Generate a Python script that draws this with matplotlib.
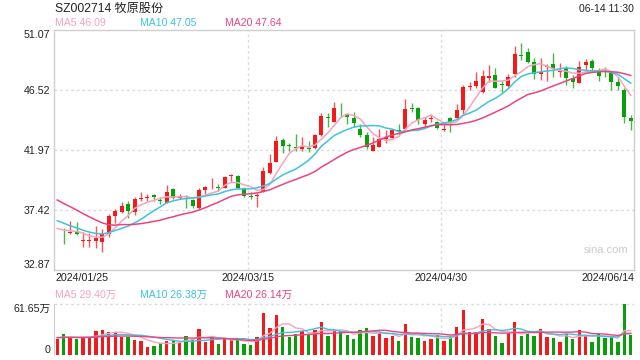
import matplotlib

matplotlib.use("Agg")
import matplotlib.pyplot as plt
import numpy as np
from matplotlib import transforms

plt.rcParams["font.family"] = ["Liberation Sans", "Noto Sans CJK SC"]

RED = "#f21b1b"
GREEN = "#0a9f0a"
GRID = "#dcdcdc"
SPINE = "#cfcfcf"
MA_COLORS = {5: "#f7a3be", 10: "#3ec3df", 20: "#ea457f"}

# daily candles 2024/01/26 .. 2024/06/14 (01/25 only shows up in volume / MAs)
opens = [35.70, 35.70, 35.85, 35.10, 35.10, 35.09, 35.02, 35.60, 36.99, 37.29,
         37.88, 37.29, 38.28, 38.35, 38.56, 38.18, 37.98, 38.99, 38.30, 38.45,
         38.18, 37.55, 38.91, 39.28, 39.16, 39.11, 40.00, 40.00, 38.99, 38.45,
         38.48, 38.81, 40.20, 41.09, 42.73, 42.30, 42.17, 42.07, 42.10, 42.10,
         43.11, 44.45, 44.12, 45.02, 44.67, 44.37, 43.54, 43.11, 41.92, 42.22,
         42.78, 42.91, 43.52, 43.56, 45.18, 45.13, 43.92, 44.33, 44.07, 43.52,
         44.37, 44.37, 45.00, 46.72, 46.85, 46.34, 47.40, 47.66, 46.97, 46.85,
         47.71, 49.15, 49.43, 48.62, 47.71, 48.26, 48.47, 47.86, 48.21, 47.40,
         47.08, 48.42, 48.72, 47.91, 47.93, 47.83, 47.15, 46.52, 44.37]
highs = [36.03, 36.58, 36.48, 35.75, 35.68, 36.21, 35.98, 37.09, 37.50, 38.00,
         38.13, 38.43, 38.76, 38.61, 38.63, 38.43, 39.29, 39.06, 38.61, 38.56,
         38.25, 39.11, 39.27, 39.87, 39.42, 40.02, 40.17, 40.07, 39.19, 38.81,
         38.68, 40.71, 41.64, 43.06, 42.91, 42.53, 43.18, 42.98, 42.68, 43.16,
         44.80, 44.75, 45.58, 45.51, 44.75, 44.88, 43.92, 43.36, 42.93, 43.54,
         43.49, 43.54, 43.92, 45.84, 45.56, 45.21, 44.50, 44.70, 44.17, 44.07,
         44.50, 45.43, 46.90, 47.15, 47.91, 48.04, 48.42, 48.16, 47.20, 47.71,
         49.86, 50.06, 49.68, 48.97, 48.97, 48.47, 49.30, 48.54, 48.37, 47.66,
         48.72, 48.87, 48.87, 48.16, 48.29, 47.91, 47.53, 46.70, 44.62]
lows = [34.82, 35.57, 35.52, 34.64, 34.64, 34.51, 34.26, 35.35, 36.41, 37.17,
        36.84, 37.04, 38.13, 38.13, 38.13, 37.88, 37.93, 38.23, 38.25, 37.60,
        37.55, 37.50, 38.61, 38.99, 38.89, 39.06, 39.56, 39.01, 38.43, 38.25,
        37.67, 38.76, 40.15, 41.04, 41.72, 41.89, 41.92, 41.92, 41.82, 42.05,
        43.06, 43.69, 44.07, 44.45, 43.92, 43.74, 42.98, 42.02, 41.92, 42.17,
        42.48, 42.85, 43.10, 43.49, 44.88, 43.92, 43.74, 44.07, 43.54, 43.41,
        43.36, 44.32, 44.70, 46.52, 46.70, 46.32, 47.15, 46.65, 46.34, 46.77,
        47.53, 48.79, 48.54, 47.35, 47.28, 47.20, 47.53, 47.53, 46.90, 46.70,
        47.03, 48.04, 48.04, 47.20, 47.53, 46.52, 46.52, 43.99, 43.49]
closes = [35.64, 35.78, 35.60, 35.14, 35.14, 35.27, 35.60, 36.97, 37.34, 37.75,
          37.37, 38.25, 38.33, 38.40, 38.43, 38.14, 38.78, 38.31, 38.48, 38.40,
          37.75, 38.94, 39.16, 39.33, 39.12, 39.92, 40.05, 39.06, 38.51, 38.40,
          38.53, 40.38, 41.01, 42.65, 42.27, 42.25, 42.13, 42.22, 42.05, 43.11,
          44.55, 44.40, 45.13, 44.97, 44.45, 43.99, 43.11, 42.22, 42.35, 42.78,
          42.98, 43.49, 43.40, 45.08, 45.08, 44.25, 44.25, 44.38, 43.61, 43.56,
          44.07, 45.00, 46.72, 46.85, 47.20, 47.58, 47.61, 46.70, 46.93, 47.53,
          49.25, 49.10, 48.62, 47.71, 47.91, 48.29, 48.11, 47.96, 47.46, 47.15,
          48.24, 48.67, 48.21, 47.61, 47.88, 47.15, 46.85, 44.50, 44.17]

# earlier closes that only feed the moving averages (last one = 01/25)
pre_close = [40.90, 40.60, 40.80, 40.50, 40.20, 40.00, 39.95, 39.79, 37.90, 36.86,
             37.50, 37.80, 37.20, 36.90, 36.55, 36.30, 36.02, 35.90, 35.73, 36.20]

# volume in 万 (2024/01/25 .. 2024/06/14)
volume = [19.1, 25.5, 22.3, 19.1, 20.3, 22.3, 29.2, 30.4, 28.4, 27.6,
          22.3, 22.3, 18.3, 17.4, 10.1, 10.9, 14.2, 17.0, 18.3, 15.0,
          23.1, 19.5, 31.6, 16.2, 22.3, 13.4, 20.3, 18.3, 19.1, 13.4,
          12.2, 21.9, 50.3, 33.2, 48.6, 34.0, 21.9, 25.5, 28.8, 24.3,
          30.4, 39.3, 23.5, 29.6, 29.2, 24.3, 19.5, 30.4, 32.8, 23.5,
          26.4, 21.1, 23.5, 17.4, 37.7, 22.3, 21.1, 17.4, 19.9, 24.3,
          17.4, 22.3, 33.3, 53.9, 27.2, 28.4, 43.8, 31.6, 23.5, 15.0,
          26.4, 40.1, 23.5, 26.4, 23.5, 31.6, 22.3, 21.1, 16.2, 25.5,
          19.9, 30.4, 23.5, 16.2, 25.5, 21.1, 23.5, 16.2, 61.65, 24.3]
pre_volume = [22.0, 20.5, 21.8, 19.6, 23.1, 20.9, 21.4, 22.6, 19.8, 20.7,
              21.5, 23.0, 20.2, 19.4, 21.9, 22.4, 20.1, 21.2, 20.8]

# values printed in the legends (as quoted by the source)
ma_quote = [46.09, 47.05, 47.64]
vol_ma_quote = [29.40, 26.38, 26.14]

dates = ["2024/01/25", "2024/03/15", "2024/04/30", "2024/06/14"]
date_idx = [0, 30, 60, 89]
price_ticks = [32.87, 37.42, 41.97, 46.52, 51.07]
vol_ticks = [0, 61.65]


def moving_avg(values, n, keep):
    v = np.asarray(values, dtype=float)
    return np.convolve(v, np.ones(n) / n, mode="valid")[-keep:]


def px(x, y):
    return x / 640, 1 - y / 360


n_days = len(volume)
o = np.array(opens)
h = np.array(highs)
lo = np.array(lows)
c = np.array(closes)
xc = np.arange(1, n_days)
up = c > o
cols = np.where(up, RED, GREEN)

fig = plt.figure(figsize=(6.4, 3.6), dpi=100)
ax = fig.add_axes([54 / 640, 90 / 360, 580 / 640, 240 / 360])
axv = fig.add_axes([54 / 640, 5 / 360, 580 / 640, 51 / 360])

# candles
ax.vlines(xc, lo, h, colors=cols, linewidth=1.0, alpha=0.75, zorder=3)
body_lo = np.minimum(o, c)
body_h = np.maximum(np.abs(c - o), 0.07)
ax.bar(xc, body_h, bottom=body_lo, width=0.62, color=cols, linewidth=0, zorder=4)

xa = np.arange(n_days)
for n, col in MA_COLORS.items():
    ax.plot(xa, moving_avg(pre_close + closes, n, n_days), color=col,
            linewidth=1.1, zorder=5)

ax.set_xlim(-0.5, n_days - 0.5)
ax.set_ylim(price_ticks[0], price_ticks[-1])
ax.set_xticks([])
ax.set_yticks(price_ticks)
ax.set_yticklabels([f"{t:.2f}" for t in price_ticks])
labs = ax.get_yticklabels()
labs[0].set_va("bottom")
labs[-1].set_va("top")
ax.tick_params(axis="y", length=0, pad=2.5, labelsize=7.7, labelcolor="#222222")
for t in price_ticks[1:-1]:
    ax.axhline(t, color=GRID, linewidth=1, linestyle=(0, (2, 2)), zorder=1)
for i in date_idx[1:-1]:
    ax.axvline(i - 0.4, color=GRID, linewidth=1, linestyle=(0, (2, 2)), zorder=1)
for s in ax.spines.values():
    s.set_color(SPINE)
    s.set_linewidth(1)
ax.text(0.99, 0.085, "sina.com", transform=ax.transAxes, ha="right",
        va="center", fontsize=8, color="#cccccc")

# volume
vol_up = [True] + list(up)
vcols = [RED if u else GREEN for u in vol_up]
axv.bar(xa, volume, width=0.52, color=vcols, linewidth=0, zorder=3)
for n, col in MA_COLORS.items():
    axv.plot(xa, moving_avg(pre_volume + volume, n, n_days), color=col,
             linewidth=1.0, zorder=4)
axv.set_xlim(-0.5, n_days - 0.5)
axv.set_ylim(vol_ticks[0], vol_ticks[-1])
axv.set_xticks([])
axv.set_yticks(vol_ticks)
axv.set_yticklabels(["0", f"{vol_ticks[-1]:.2f}万"])
vlabs = axv.get_yticklabels()
vlabs[0].set_va("bottom")
vlabs[-1].set_va("top")
axv.tick_params(axis="y", length=0, pad=2.5, labelsize=7.7, labelcolor="#222222")
axv.axhline(vol_ticks[-1], color=GRID, linewidth=1, linestyle=(0, (2, 2)),
            clip_on=False, zorder=1)
for i in date_idx[1:-1]:
    axv.axvline(i - 0.4, color=GRID, linewidth=1, linestyle=(0, (2, 2)), zorder=1)
for k in ("top", "right", "bottom"):
    axv.spines[k].set_visible(False)
axv.spines["left"].set_color(SPINE)

# date labels between the panels
trans = transforms.blended_transform_factory(ax.transData, fig.transFigure)
ypos = px(0, 278)[1]
for k, (d, i) in enumerate(zip(dates, date_idx)):
    if k == 0:
        fig.text(*px(55, 278), d, ha="left", va="center", fontsize=7.7, color="#222222")
    elif k == len(dates) - 1:
        fig.text(*px(634, 278), d, ha="right", va="center", fontsize=7.7, color="#222222")
    else:
        ax.text(i - 0.4, ypos, d, transform=trans, ha="center", va="center",
                fontsize=7.7, color="#222222")

# header texts
fig.text(*px(55, 8.5), "SZ002714 牧原股份", ha="left", va="center",
         fontsize=8.7, color="#222222")
fig.text(*px(634, 9), "06-14 11:30", ha="right", va="center",
         fontsize=7.5, color="#222222")
for xoff, (n, col), pv, vv in zip((55, 140, 225), MA_COLORS.items(),
                                  ma_quote, vol_ma_quote):
    fig.text(*px(xoff, 23.5), f"MA{n} {pv:.2f}", ha="left", va="center",
             fontsize=7.6, color=col)
    fig.text(*px(xoff, 295), f"MA{n} {vv:.2f}万", ha="left", va="center",
             fontsize=7.6, color=col)

fig.savefig("out.png", dpi=100)
